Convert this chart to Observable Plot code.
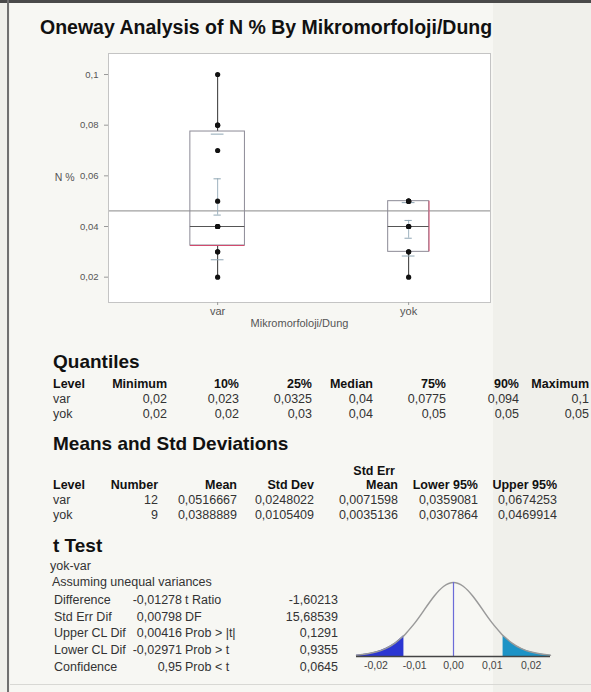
<!DOCTYPE html>
<html><head><meta charset="utf-8">
<script src="https://cdn.jsdelivr.net/npm/d3@7"></script>
<script src="https://cdn.jsdelivr.net/npm/@observablehq/plot@0.6"></script>
<style>
html,body{margin:0;padding:0;}
body{width:591px;height:692px;overflow:hidden;background:#f0f0eb;position:relative;font-family:"Liberation Sans",Arial,Helvetica,sans-serif;color:#222;}
#panel{position:absolute;left:10px;top:3px;width:483px;height:689px;background:#f7f7f3;}
#topbar{position:absolute;left:0;top:0;width:591px;height:3px;background:#4a4a4a;}
#leftbar{position:absolute;left:7px;top:0;width:2px;height:692px;background:#707070;}
#bottomline{position:absolute;left:10px;top:684px;width:581px;height:1px;background:#d8d8d4;}
.t{position:absolute;white-space:nowrap;line-height:1;}
.abs{position:absolute;}
</style>
</head><body>
<div id="panel"></div><div id="topbar"></div><div id="leftbar"></div><div id="bottomline"></div>
<div id="box" class="abs" style="left:0;top:45px"></div>
<div id="tplot" class="abs" style="left:340px;top:575px"></div>
<script>
// ---------- data ----------
const title = "Oneway Analysis of N % By Mikromorfoloji/Dung";
const groups = ["var", "yok"];
const varValues = [0.02, 0.03, 0.03, 0.04, 0.04, 0.04, 0.04, 0.05, 0.07, 0.08, 0.08, 0.1];
const yokValues = [0.02, 0.03, 0.03, 0.04, 0.04, 0.04, 0.05, 0.05, 0.05];
const yTicks = [0.02, 0.04, 0.06, 0.08, 0.1];
const yLabel = "N %";
const xLabel = "Mikromorfoloji/Dung";

const quantHeaders = ["Level", "Minimum", "10%", "25%", "Median", "75%", "90%", "Maximum"];
const quantVar = [0.02, 0.023, 0.0325, 0.04, 0.0775, 0.094, 0.1];
const quantYok = [0.02, 0.02, 0.03, 0.04, 0.05, 0.05, 0.05];

const meanHeaders = ["Level", "Number", "Mean", "Std Dev", "Mean", "Lower 95%", "Upper 95%"];
const meanVar = [12, 0.0516667, 0.0248022, 0.0071598, 0.0359081, 0.0674253];
const meanYok = [9, 0.0388889, 0.0105409, 0.0035136, 0.0307864, 0.0469914];

const tLabelsLeft = ["Difference", "Std Err Dif", "Upper CL Dif", "Lower CL Dif", "Confidence"];
const tValuesLeft = [-0.01278, 0.00798, 0.00416, -0.02971, 0.95];
const tLabelsRight = ["t Ratio", "DF", "Prob > |t|", "Prob > t", "Prob < t"];
const tValuesRight = ["-1,60213", "15,68539", "0,1291", "0,9355", "0,0645"];
const tTicks = [-0.02, -0.01, 0, 0.01, 0.02];
// t distribution (df 15,68539, std err 0,00798) relative height read along the x axis
const tCurveX = [-0.025, -0.0225, -0.02, -0.0175, -0.015, -0.01278, -0.0125, -0.01, -0.0075, -0.005, -0.0025, 0,
                 0.0025, 0.005, 0.0075, 0.01, 0.0125, 0.01278, 0.015, 0.0175, 0.02, 0.0225, 0.025];
const tCurveY = [0.017, 0.033, 0.060, 0.107, 0.184, 0.283, 0.297, 0.451, 0.633, 0.814, 0.949, 1,
                 0.949, 0.814, 0.633, 0.451, 0.297, 0.283, 0.184, 0.107, 0.060, 0.033, 0.017];

// ---------- helpers ----------
const comma = v => String(v).replace(".", ",");
const FONT = '"Liberation Sans", Arial, Helvetica, sans-serif';
function txt(s, x, y, o = {}) {
  const d = document.createElement("div");
  d.className = "t"; d.textContent = s;
  d.style.left = x + "px"; d.style.top = y + "px";
  d.style.fontSize = (o.size || 12.5) + "px";
  d.style.fontWeight = o.weight || "normal";
  d.style.color = o.color || "#333";
  const tx = o.anchor === "end" ? "-100%" : o.anchor === "middle" ? "-50%" : "0";
  d.style.transform = `translate(${tx},-50%)`;
  document.body.appendChild(d);
}

// ---------- box plot ----------
const groupValues = [varValues, yokValues];
const counts = groupValues.map(v => v.length);
const total = d3.sum(counts);
let cum = 0;
const centers = counts.map(c => { const m = cum + c / 2; cum += c; return m; });
const quant = [quantVar, quantYok];
const means = [meanVar, meanYok];
const boxes = groups.map((g, i) => ({
  group: g, center: centers[i], half: counts[i] / 8,
  min: quant[i][0], q25: quant[i][2], median: quant[i][3], q75: quant[i][4], max: quant[i][6],
  mean: means[i][1], sd: means[i][2], se: means[i][3]
}));
const points = groups.flatMap((g, i) => groupValues[i].map(v => ({group: g, center: centers[i], value: v})));
const grandMean = d3.mean(points, d => d.value);
const seMarks = boxes.flatMap(b => [b.mean - b.se, b.mean + b.se].map(y => ({center: b.center, y})));
const sdMarks = boxes.flatMap(b => [b.mean - b.sd, b.mean + b.sd].map(y => ({center: b.center, y})));

const boxPlot = Plot.plot({
  width: 591, height: 300,
  marginLeft: 108, marginRight: 101, marginTop: 8, marginBottom: 43,
  x: {domain: [0, total], axis: null},
  y: {domain: [0.01, 0.1083], axis: null},
  style: {background: "transparent", fontFamily: FONT, fontSize: "11px", color: "#555"},
  marks: [
    Plot.frame({fill: "white", stroke: "none"}),
    Plot.ruleY([grandMean], {stroke: "#a0a0a0", strokeWidth: 1.2}),
    Plot.ruleX(boxes, {x: "center", y1: "q75", y2: "max", stroke: "#333"}),
    Plot.ruleX(boxes, {x: "center", y1: "min", y2: "q25", stroke: "#333"}),
    Plot.rect(boxes, {x1: d => d.center - d.half, x2: d => d.center + d.half, y1: "q25", y2: "q75", stroke: "#8c8a96", fill: "none"}),
    Plot.ruleY(boxes.filter(d => d.group === "var"), {y: "q25", x1: d => d.center - d.half, x2: d => d.center + d.half, stroke: "#d24a6e"}),
    Plot.ruleX(boxes.filter(d => d.group === "yok"), {x: d => d.center + d.half, y1: "q25", y2: "q75", stroke: "#e0607e"}),
    Plot.ruleY(boxes, {y: "median", x1: d => d.center - d.half, x2: d => d.center + d.half, stroke: "#555"}),
    Plot.ruleX(boxes, {x: "center", y1: d => d.mean - d.se, y2: d => d.mean + d.se, stroke: "#9fb3bf"}),
    Plot.ruleY(seMarks, {y: "y", x1: d => d.center - 0.2, x2: d => d.center + 0.2, stroke: "#8fa6b4"}),
    Plot.ruleY(sdMarks, {y: "y", x1: d => d.center - 0.35, x2: d => d.center + 0.35, stroke: "#8fa6b4"}),
    Plot.dot(points, {x: "center", y: "value", r: 2.6, fill: "#111", stroke: "none"}),
    Plot.frame({stroke: "#c4c4c4"}),
    Plot.axisY({ticks: yTicks, tickFormat: comma, tickSize: 4, tickPadding: 6, fontSize: 9.5, label: null, stroke: "#999"}),
    Plot.axisX({ticks: centers, tickFormat: d => groups[centers.indexOf(d)], tickSize: 3, tickPadding: 2, fontSize: 11, label: null, stroke: "#999"}),
    Plot.text([yLabel], {frameAnchor: "left", dx: -34, textAnchor: "end", fontSize: 10.5, fill: "#555"}),
    Plot.text([xLabel], {frameAnchor: "bottom", dy: 24, fontSize: 11, fill: "#555"})
  ]
});
document.getElementById("box").appendChild(boxPlot);

// ---------- title & tables ----------
txt(title, 40, 28, {size: 19.5, weight: "bold", color: "#111"});

txt("Quantiles", 53, 361, {size: 19, weight: "bold", color: "#111"});
const qRight = [167, 239, 312, 373, 446, 519, 589];
txt(quantHeaders[0], 53, 384, {weight: "bold", color: "#111"});
quantHeaders.slice(1).forEach((h, i) => txt(h, qRight[i], 384, {anchor: "end", weight: "bold", color: "#111"}));
[quantVar, quantYok].forEach((row, r) => {
  const y = 399 + r * 15;
  txt(groups[r], 53, y);
  row.forEach((v, i) => txt(comma(v), qRight[i], y, {anchor: "end"}));
});

txt("Means and Std Deviations", 53, 443, {size: 19, weight: "bold", color: "#111"});
const mRight = [158, 237, 314, 398, 478, 557];
txt("Std Err", 395, 471, {anchor: "end", weight: "bold", color: "#111"});
txt(meanHeaders[0], 53, 485, {weight: "bold", color: "#111"});
meanHeaders.slice(1).forEach((h, i) => txt(h, mRight[i], 485, {anchor: "end", weight: "bold", color: "#111"}));
[meanVar, meanYok].forEach((row, r) => {
  const y = 500 + r * 14.5;
  txt(groups[r], 53, y);
  row.forEach((v, i) => txt(i === 0 ? String(v) : comma(v.toFixed(7)), mRight[i], y, {anchor: "end"}));
});

txt("t Test", 53, 545, {size: 19, weight: "bold", color: "#111"});
txt("yok-var", 50, 566);
txt("Assuming unequal variances", 52, 582);
tLabelsLeft.forEach((l, i) => {
  const y = 600 + i * 16.7;
  txt(l, 54, y);
  txt(comma(tValuesLeft[i]), 182, y, {anchor: "end"});
  txt(tLabelsRight[i], 185, y);
  txt(tValuesRight[i], 338, y, {anchor: "end"});
});

// ---------- t distribution plot ----------
const curve = tCurveX.map((x, i) => ({x, y: tCurveY[i]}));
const absDiff = Math.abs(tValuesLeft[0]);
const tPlot = Plot.plot({
  width: 230, height: 100,
  marginLeft: 16, marginRight: 20, marginTop: 7, marginBottom: 19,
  x: {domain: [-0.025, 0.025], axis: null},
  y: {domain: [0, 1], axis: null},
  style: {background: "transparent", fontFamily: FONT, color: "#444"},
  marks: [
    Plot.areaY(curve.filter(d => d.x <= -absDiff + 1e-9), {x: "x", y: "y", fill: "#2b36d2", curve: "natural"}),
    Plot.areaY(curve.filter(d => d.x >= absDiff - 1e-9), {x: "x", y: "y", fill: "#1d93c6", curve: "natural"}),
    Plot.line(curve, {x: "x", y: "y", stroke: "#9a9a9a", strokeWidth: 1.5, curve: "natural"}),
    Plot.ruleX([0], {y1: 0, y2: 1, stroke: "#6b6bd8", strokeWidth: 1.2}),
    Plot.ruleY([0], {stroke: "#444", strokeWidth: 1.5}),
    Plot.axisX({ticks: tTicks, tickFormat: d => (d < 0 ? "-" : "") + Math.abs(d).toFixed(2).replace(".", ","), tickSize: 0, tickPadding: 5, fontSize: 10.5, label: null})
  ]
});
document.getElementById("tplot").appendChild(tPlot);
</script>
</body></html>
